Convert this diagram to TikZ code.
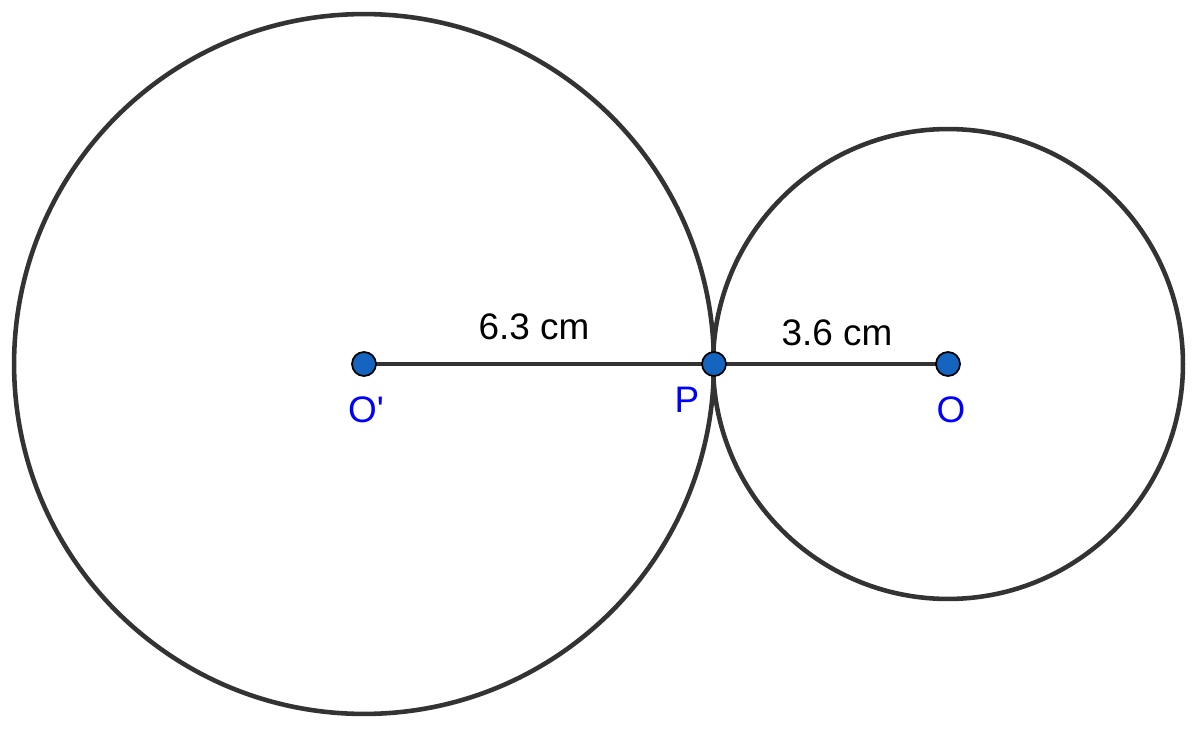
\documentclass[tikz,border=0pt]{standalone}
\usepackage{fontspec}
\setmainfont{Liberation Sans}
\usepackage{tikz}
\usetikzlibrary{
    arrows.meta,
    calc,
    positioning,
}
\definecolor{LineGray}{HTML}{333333}
\definecolor{DotBlue}{HTML}{1565C0}
\definecolor{LabelBlue}{HTML}{0000FF}
\tikzstyle{ring}=[draw=LineGray,line width=2.6pt]
\tikzstyle{radius_line}=[draw=LineGray,line width=2.6pt]
\tikzstyle{dot}=[circle,fill=DotBlue,draw=black,line width=1pt,inner sep=0mm,minimum width=4.8mm]
\tikzstyle{pt_label}=[text=LabelBlue,font=\fontsize{21}{24}\selectfont,inner sep=0mm]
\tikzstyle{len_label}=[text=black,font=\fontsize{21}{24}\selectfont,inner sep=0mm]
\tikzset{
    >=latex
}

\begin{document}
\begin{tikzpicture}[x=0.02cm,y=0.02cm]
    \useasboundingbox (0,0) rectangle (1200,728);
    % Centres and point of contact
    \coordinate (Oprime) at (364,364);
    \coordinate (P) at (714,364);
    \coordinate (O) at (948,364);

    % Circles
    \draw[ring] (Oprime) circle[radius=7cm];
    \draw[ring] (O) circle[radius=4.7cm];

    % Radii
    \draw[radius_line] (Oprime) -- node[len_label,above=4.4mm,xshift=-1mm] {6.3 cm} (P);
    \draw[radius_line] (P) -- node[len_label,above=3.2mm,xshift=1.2mm] {3.6 cm} (O);

    % Points
    \node[dot] (dotOprime) at (Oprime) {};
    \node[dot] (dotP) at (P) {};
    \node[dot] (dotO) at (O) {};

    % Labels
    \node[pt_label] (lblOprime) at (366,318) {O\textquotesingle};
    \node[pt_label] (lblP) at (687,328) {P};
    \node[pt_label] (lblO) at (951,318) {O};
\end{tikzpicture}
\end{document}
